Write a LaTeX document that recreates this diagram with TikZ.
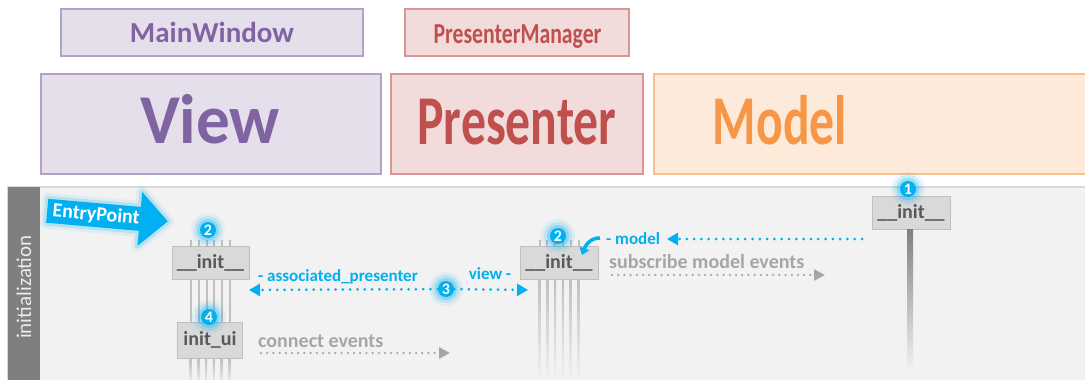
\documentclass[tikz,border=0pt]{standalone}
\usepackage{fontspec}
\setmainfont{Carlito}
\usepackage{graphicx}
\usetikzlibrary{arrows.meta}

\definecolor{viewfill}{HTML}{E5DFEC}
\definecolor{viewline}{HTML}{B3A2C7}
\definecolor{viewtext}{HTML}{8064A2}
\definecolor{presfill}{HTML}{F2DCDB}
\definecolor{presline}{HTML}{D99694}
\definecolor{prestext}{HTML}{C0504D}
\definecolor{modfill}{HTML}{FDEADA}
\definecolor{modline}{HTML}{FAC090}
\definecolor{modtext}{HTML}{F79646}
\definecolor{band}{HTML}{F2F2F2}
\definecolor{bandline}{HTML}{D9D9D9}
\definecolor{phase}{HTML}{7F7F7F}
\definecolor{accent}{HTML}{00B0F0}
\definecolor{boxfill}{HTML}{D9D9D9}
\definecolor{boxline}{HTML}{BFBFBF}
\definecolor{boxtext}{HTML}{595959}
\definecolor{note}{HTML}{A6A6A6}

\tikzset{
  role/.style={draw, line width=1.5pt, inner sep=0pt},
  big/.style={font=\bfseries\fontsize{70}{70}\selectfont, inner sep=0pt, anchor=base},
  owner/.style={font=\bfseries\fontsize{29}{29}\selectfont, inner sep=0pt, anchor=base},
  fn/.style={draw=boxline, fill=boxfill, line width=1pt, text=boxtext,
    font=\bfseries\fontsize{20}{20}\selectfont, inner sep=0pt},
  badge/.style={circle, fill=accent, text=white, inner sep=0pt, minimum size=16pt,
    font=\bfseries\fontsize{16}{16}\selectfont,
    preaction={draw=accent, line width=18pt, draw opacity=0.08},
    preaction={draw=accent, line width=12pt, draw opacity=0.14},
    preaction={draw=accent, line width=6pt, draw opacity=0.25}},
  lbl/.style={text=accent, font=\bfseries\fontsize{17}{17}\selectfont, inner sep=0pt},
  gnote/.style={text=note, font=\bfseries\fontsize{20}{20}\selectfont, inner sep=0pt},
  dotblue/.style={accent, line width=3pt, line cap=round, dash pattern=on 0pt off 7.3pt,
    -{Triangle[length=11pt,width=12pt]}},
  dotgray/.style={note, line width=2.5pt, line cap=round, dash pattern=on 0pt off 6.2pt,
    -{Triangle[length=11pt,width=11pt]}},
  wire/.style={boxline, line width=2pt},
  entryshape/.style={line join=round},
}

\begin{document}
\begin{tikzpicture}[x=1pt, y=-1pt]
\useasboundingbox (0,0) rectangle (1085,380);
\clip (0,0) rectangle (1085,380);

% owners of the roles
\node[role, draw=viewline, fill=viewfill, minimum width=302pt, minimum height=47pt] (mainwin) at (212,32.5) {};
\node[owner, text=viewtext] (mainwint) at (212,42) {MainWindow};
\node[role, draw=presline, fill=presfill, minimum width=224pt, minimum height=47pt] (presmgr) at (517,32.5) {};
\node[owner, text=prestext] (presmgrt) at (517.5,43) {\scalebox{0.75}[1]{PresenterManager}};

% the three roles
\node[role, draw=viewline, fill=viewfill, minimum width=340pt, minimum height=100pt] (view) at (211,124) {};
\node[big, text=viewtext] (viewt) at (210,143) {\scalebox{0.96}[1]{View}};
\node[role, draw=presline, fill=presfill, minimum width=252pt, minimum height=100pt] (pres) at (517,124) {};
\node[big, text=prestext] (prest) at (517,144) {\scalebox{0.71}[1]{Presenter}};
\node[role, draw=modline, fill=modfill, minimum width=440pt, minimum height=100pt] (model) at (874,124) {};
\node[big, text=modtext] (modelt) at (780,144) {\scalebox{0.71}[1]{Model}};

% initialization band
\fill[band] (8,187) rectangle (1090,385);
\draw[bandline, line width=1.5pt] (1090,187) -- (8,187) -- (8,385);
\fill[phase] (8,187) rectangle (40,385);
\node[rotate=90, text=white!92!black, font=\fontsize{21}{21}\selectfont, inner sep=0pt] (phaset) at (24,287) {initialization};

% entry point arrow
\begin{scope}[shift={(107,216)}, rotate=-5]
  \path[entryshape, draw=accent, line width=12pt, draw opacity=0.08]
    (-60,-12) -- (33,-12) -- (33,-27) -- (61,0) -- (33,27) -- (33,12) -- (-60,12) -- cycle;
  \path[entryshape, draw=accent, line width=6pt, draw opacity=0.18]
    (-60,-12) -- (33,-12) -- (33,-27) -- (61,0) -- (33,27) -- (33,12) -- (-60,12) -- cycle;
  \fill[entryshape, accent]
    (-60,-12) -- (33,-12) -- (33,-27) -- (61,0) -- (33,27) -- (33,12) -- (-60,12) -- cycle;
  \node[text=white, font=\bfseries\fontsize{20}{20}\selectfont, inner sep=0pt, transform shape] (entry) at (-11,0) {EntryPoint};
\end{scope}

% functions
\node[fn, minimum width=77pt, minimum height=33pt] (vinit) at (210.5,262.5) {\_\_init\_\_};
\node[fn, minimum width=65pt, minimum height=36pt] (vui) at (210,340) {init\_ui};
\node[fn, minimum width=78pt, minimum height=33pt] (pinit) at (559,262.5) {\_\_init\_\_};
\node[fn, minimum width=78pt, minimum height=33pt] (minit) at (911,212.5) {\_\_init\_\_};

% call wires of the view
\foreach \d in {-19.5,-11.7,-3.9,3.9,11.7,19.5} {
  \draw[wire] ([xshift=\d pt]vinit.north) -- +(0,-6);
  \draw[wire] ([xshift=\d pt]vinit.south) -- +(0,43);
  \shade[top color=boxline, bottom color=band] ([xshift=\d pt - 1pt]vui.south) rectangle +(2,28);
}
% call wires of the presenter
\foreach \d in {-19.5,-11.7,-3.9,3.9,11.7,19.5} {
  \draw[wire] ([xshift=\d pt]pinit.north) -- +(0,-6);
  \shade[top color=boxline, bottom color=band] ([xshift=\d pt - 1pt]pinit.south) rectangle +(2,102);
}
% lifeline of the model
\shade[top color=black!50, bottom color=band] ([xshift=-4pt]minit.south) rectangle +(6,140);

% steps
\node[badge] (b1) at (908,189) {1};
\node[badge] (b2v) at (208,230) {2};
\node[badge] (b2p) at (558,236) {2};
\node[badge] (b3) at (446,289) {3};
\node[badge] (b4) at (209,317) {4};

% labels
\node[lbl, anchor=base west] (apl) at (258,281) {- associated\_presenter};
\node[lbl, anchor=base] (vl) at (490,279) {view -};
\node[lbl, anchor=base west] (ml) at (606,244) {- model};
\node[gnote, anchor=base west] (sl) at (609,268) {subscribe model events};
\node[gnote, anchor=base west] (cl) at (258,347) {connect events};

% free ends of the messages
\coordinate (vend) at (249,290);
\coordinate (pend) at (528,290);
\coordinate (mstart) at (862,239);
\coordinate (mend) at (667,239);
\coordinate (sstart) at (612,275);
\coordinate (send) at (825,275);
\coordinate (cstart) at (261,353);
\coordinate (cend) at (450,353);
\coordinate (hookstart) at (600,238);
\coordinate (hookend) at (582,255);

% messages
\draw[dotblue] (b3) -- (vend);
\draw[dotblue] (b3) -- (pend);
\draw[dotblue] (mstart) -- (mend);
\draw[dotgray] (sstart) -- (send);
\draw[dotgray] (cstart) -- (cend);
\draw[accent, line width=3.5pt, -{Triangle[length=7pt,width=10pt]}]
  (hookstart) .. controls (591,238) and (586,244) .. (hookend);
\end{tikzpicture}
\end{document}
